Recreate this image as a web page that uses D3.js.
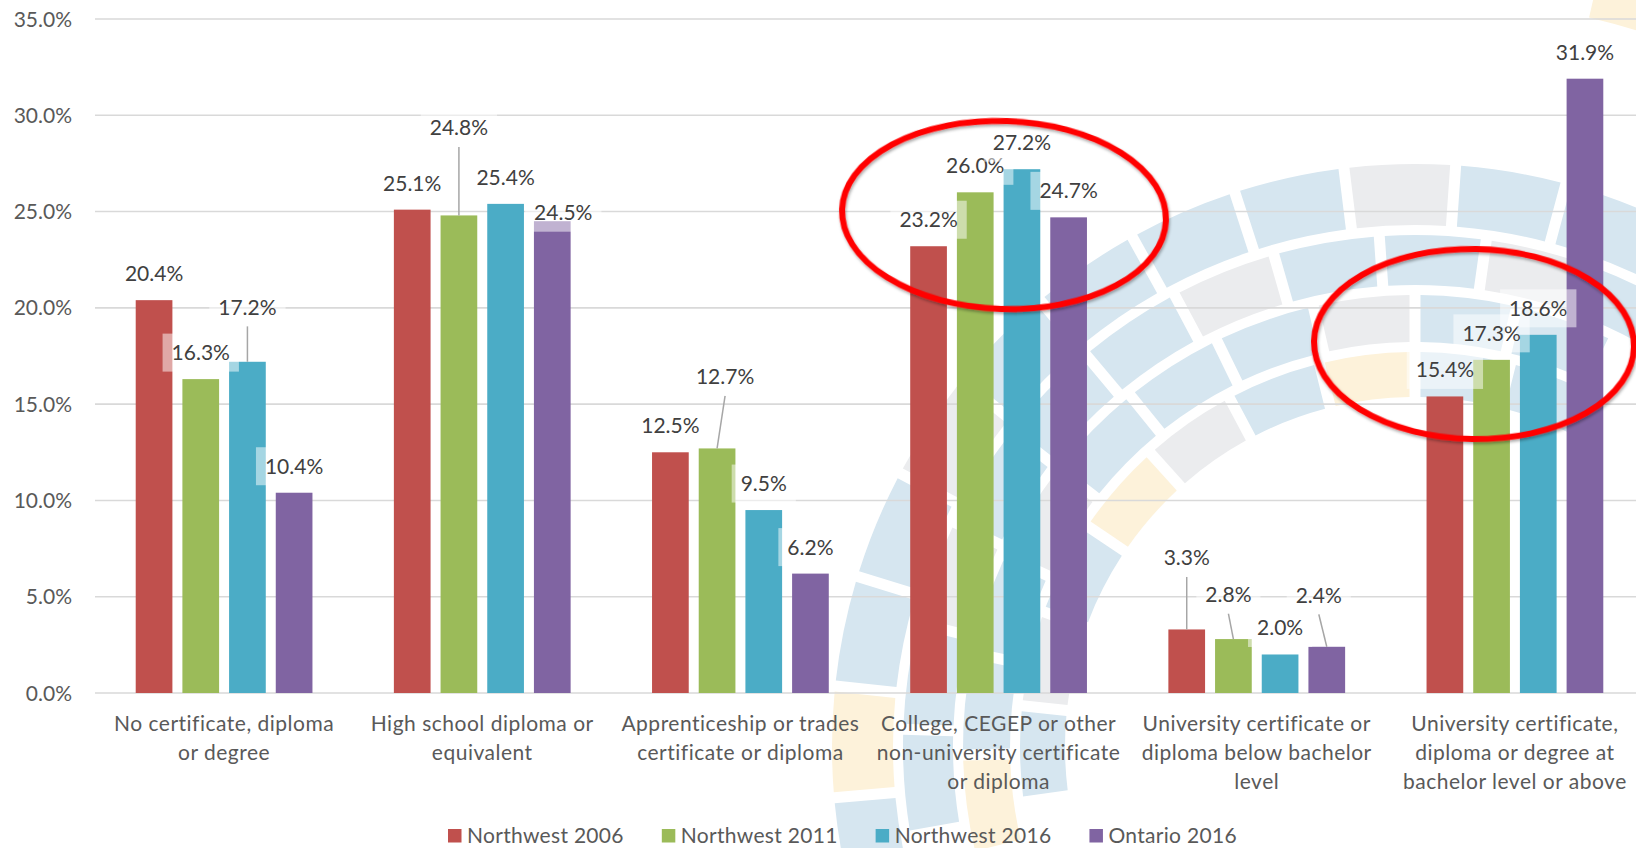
<!DOCTYPE html>
<html>
<head>
<meta charset="utf-8">
<script src="https://cdnjs.cloudflare.com/ajax/libs/d3/7.8.5/d3.min.js"></script>
<style>
  body { margin: 0; background: #fff; }
  svg text { font-family: Lato, "Open Sans", sans-serif; font-size: 21px; }
</style>
</head>
<body>
<svg id="chart"></svg>
<script>
// data
var categories = [
  "No certificate, diploma\nor degree",
  "High school diploma or\nequivalent",
  "Apprenticeship or trades\ncertificate or diploma",
  "College, CEGEP or other\nnon-university certificate\nor diploma",
  "University certificate or\ndiploma below bachelor\nlevel",
  "University certificate,\ndiploma or degree at\nbachelor level or above"
];
var seriesNames = ["Northwest 2006", "Northwest 2011", "Northwest 2016", "Ontario 2016"];
var northwest2006 = [20.4, 25.1, 12.5, 23.2, 3.3, 15.4];
var northwest2011 = [16.3, 24.8, 12.7, 26.0, 2.8, 17.3];
var northwest2016 = [17.2, 25.4, 9.5, 27.2, 2.0, 18.6];
var ontario2016 = [10.4, 24.5, 6.2, 24.7, 2.4, 31.9];
var yTicks = [0, 5, 10, 15, 20, 25, 30, 35];

var seriesValues = [northwest2006, northwest2011, northwest2016, ontario2016];
var colors = ["#C0504D", "#9BBB59", "#4BACC6", "#8064A2"];

// labels that were dragged away from their default spot (series-category : dx, dy)
var labelMoves = {
  "2-0": [0, -28], "1-1": [0, -61], "3-1": [11, 18], "1-2": [8, -45],
  "0-4": [0, -45], "1-4": [-5, -18], "3-4": [-8, -25]
};

var width = 1636, height = 848;

var svg = d3.select("#chart")
    .attr("width", width)
    .attr("height", height);

// faded logo in the background
var logo = svg.append("g").attr("transform", "translate(1415,747)");
var rings = [
  {r0: 522, r1: 583, a0: -106, step: 11, pal: "bybbgbbbbgbb"},
  {r0: 462, r1: 512, a0: -100, step: 12, pal: "bbgbbbgbbgb"},
  {r0: 405, r1: 452, a0: -104, step: 13, pal: "ybbgbbbgbb"},
  {r0: 350, r1: 395, a0: -98, step: 14, pal: "bgbygbybb"},
  {r0: 750, r1: 830, a0: 13, step: 12, pal: "yy"}
];
var tileColor = {b: "#d6e6f0", g: "#ebecee", y: "#fdf2da"};
var arc = d3.arc().padRadius(100).padAngle(0.11);
rings.forEach(function(ring) {
  ring.pal.split("").forEach(function(c, i) {
    var s = (ring.a0 + i * ring.step) * Math.PI / 180;
    logo.append("path")
      .attr("d", arc({innerRadius: ring.r0, outerRadius: ring.r1,
                      startAngle: s, endAngle: s + ring.step * Math.PI / 180}))
      .attr("fill", tileColor[c]);
  });
});

// scales
var y = d3.scaleLinear().domain([0, 35]).range([693, 19]);
var x0 = d3.scaleBand().domain(d3.range(categories.length)).range([95, 1644]);
var x1 = d3.scaleBand().domain(d3.range(seriesNames.length))
    .range([0, x0.bandwidth()])
    .paddingInner(0.214)
    .paddingOuter(0.872);

// gridlines
svg.append("g")
  .selectAll("line")
  .data(yTicks)
  .enter()
  .append("line")
    .attr("x1", 95)
    .attr("x2", 1644)
    .attr("y1", function(d) { return y(d); })
    .attr("y2", function(d) { return y(d); })
    .attr("stroke", "#d9d9d9")
    .attr("stroke-width", 1.6);

// y axis labels
svg.append("g")
  .selectAll("text")
  .data(yTicks)
  .enter()
  .append("text")
    .attr("x", 72)
    .attr("y", function(d) { return y(d) + 7.5; })
    .attr("text-anchor", "end")
    .attr("fill", "#595959")
    .text(function(d) { return d3.format(".1f")(d) + "%"; });

// bars
var groups = svg.append("g")
  .selectAll("g")
  .data(categories)
  .enter()
  .append("g")
    .attr("transform", function(d, i) { return "translate(" + x0(i) + ",0)"; });

groups.selectAll("rect")
  .data(function(d, i) { return seriesValues.map(function(s, k) { return {k: k, v: s[i]}; }); })
  .enter()
  .append("rect")
    .attr("x", function(d) { return x1(d.k); })
    .attr("y", function(d) { return y(d.v); })
    .attr("width", x1.bandwidth())
    .attr("height", function(d) { return y(0) - y(d.v); })
    .attr("fill", function(d) { return colors[d.k]; });

// data labels with half see-through boxes and leader lines
var labelLayer = svg.append("g");
seriesValues.forEach(function(s, k) {
  s.forEach(function(v, i) {
    var barX = x0(i) + x1(k) + x1.bandwidth() / 2;
    var move = labelMoves[k + "-" + i] || [0, 0];
    var cx = barX + move[0];
    var base = y(v) - 19 + move[1];
    if (move[1] < -12) {
      labelLayer.append("line")
        .attr("x1", cx).attr("y1", base + 11.5)
        .attr("x2", barX).attr("y2", y(v))
        .attr("stroke", "#a6a6a6")
        .attr("stroke-width", 1.5);
    }
    var box = labelLayer.append("rect");
    var t = labelLayer.append("text")
      .attr("x", cx)
      .attr("y", base)
      .attr("text-anchor", "middle")
      .attr("fill", "#404040")
      .text(d3.format(".1f")(v) + "%");
    var w = t.node().getComputedTextLength();
    box.attr("x", cx - w / 2 - 9)
      .attr("y", base - 26.5)
      .attr("width", w + 18)
      .attr("height", 38)
      .attr("fill", "#fff")
      .attr("fill-opacity", 0.5);
  });
});

// category labels
groups.append("text")
  .attr("text-anchor", "middle")
  .attr("fill", "#595959")
  .style("letter-spacing", "0.5px")
  .selectAll("tspan")
  .data(function(d) { return d.split("\n"); })
  .enter()
  .append("tspan")
    .attr("x", x0.bandwidth() / 2)
    .attr("y", function(d, j) { return 731 + j * 29; })
    .text(function(d) { return d; });

// legend
var legend = svg.append("g");
var lx = 448;
seriesNames.forEach(function(name, k) {
  legend.append("rect")
    .attr("x", lx).attr("y", 829)
    .attr("width", 13.5).attr("height", 13.5)
    .attr("fill", colors[k]);
  var t = legend.append("text")
    .attr("x", lx + 19)
    .attr("y", 843)
    .attr("fill", "#595959")
    .style("letter-spacing", "0.3px")
    .text(name);
  lx += 19 + t.node().getComputedTextLength() + 38;
});

// red highlight rings drawn over the chart
var defs = svg.append("defs");
defs.append("filter").attr("id", "shadow")
    .attr("x", "-10%").attr("y", "-10%").attr("width", "120%").attr("height", "130%")
  .append("feDropShadow")
    .attr("dx", 1).attr("dy", 2).attr("stdDeviation", 1.5)
    .attr("flood-color", "#000").attr("flood-opacity", 0.35);

var highlights = [
  {cx: 1004, cy: 215, rx: 162, ry: 94, rot: 2},
  {cx: 1474, cy: 344, rx: 160, ry: 95, rot: 1}
];
svg.append("g")
  .selectAll("ellipse")
  .data(highlights)
  .enter()
  .append("ellipse")
    .attr("transform", function(d) { return "translate(" + d.cx + "," + d.cy + ") rotate(" + d.rot + ")"; })
    .attr("rx", function(d) { return d.rx; })
    .attr("ry", function(d) { return d.ry; })
    .attr("fill", "none")
    .attr("stroke", "#ff0000")
    .attr("stroke-width", 6)
    .attr("filter", "url(#shadow)");
</script>
</body>
</html>
